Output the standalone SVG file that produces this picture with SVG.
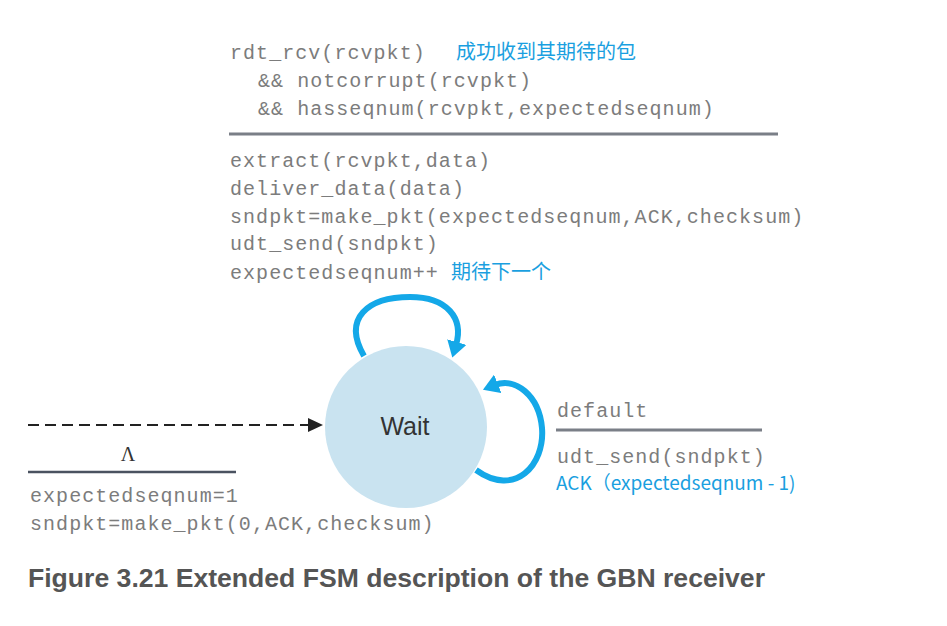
<svg xmlns="http://www.w3.org/2000/svg" width="947" height="626" viewBox="0 0 947 626">
<style>
.mono{font-family:"Liberation Mono","DejaVu Sans Mono",monospace;font-size:20px;letter-spacing:1.05px;fill:#7c7c7c}
.note{font-family:"Noto Sans CJK SC","Noto Sans",sans-serif;font-size:20px;fill:#1a9fe0}
.rule{stroke:#7a7f87;stroke-width:3}
.loop{fill:none;stroke:#14a8e8;stroke-width:6;stroke-linecap:butt}
</style>
<defs>
<marker id="bh" markerUnits="userSpaceOnUse" markerWidth="18" markerHeight="20" refX="3" refY="10" orient="auto" viewBox="0 0 18 20">
<path d="M0,0 L16,10 L0,20 z" fill="#14a8e8"/>
</marker>
</defs>
<rect width="947" height="626" fill="#ffffff"/>
<g id="wait">
<circle cx="406" cy="427" r="81" fill="#c9e3f0"/>
<text x="405" y="435" text-anchor="middle" font-family="Liberation Sans, Arial, sans-serif" font-size="25" fill="#333333">Wait</text>
</g>
<g id="connectors">
<line x1="28" y1="425" x2="308" y2="425" stroke="#222222" stroke-width="2" stroke-dasharray="11,6"/>
<polygon points="308,418 323,425 308,432" fill="#222222"/>
<path class="loop" d="M364 356 C342 318,368 297,410 297 C447 297,464 318,456 345" marker-end="url(#bh)"/>
<path class="loop" d="M476 470 C515 498,545 465,542 428 C539 395,515 377,495 385" marker-end="url(#bh)"/>
</g>
<g id="label-top">
<text class="mono" x="230" y="59">rdt_rcv(rcvpkt)</text>
<text class="note" x="456" y="59">成功收到其期待的包</text>
<text class="mono" x="258" y="87">&amp;&amp; notcorrupt(rcvpkt)</text>
<text class="mono" x="258" y="115">&amp;&amp; hasseqnum(rcvpkt,expectedseqnum)</text>
<line class="rule" x1="229" y1="134" x2="778" y2="134"/>
<text class="mono" x="230" y="167">extract(rcvpkt,data)</text>
<text class="mono" x="230" y="195">deliver_data(data)</text>
<text class="mono" x="230" y="223">sndpkt=make_pkt(expectedseqnum,ACK,checksum)</text>
<text class="mono" x="230" y="250">udt_send(sndpkt)</text>
<text class="mono" x="230" y="279">expectedseqnum++</text>
<text class="note" x="451" y="279">期待下一个</text>
</g>
<g id="label-right">
<text class="mono" x="557" y="417">default</text>
<line class="rule" x1="556" y1="430" x2="762" y2="430"/>
<text class="mono" x="557" y="463">udt_send(sndpkt)</text>
<text class="note" x="556" y="490" style="font-size:19px">ACK（expectedseqnum - 1)</text>
</g>
<g id="label-init">
<text x="128" y="461" text-anchor="middle" font-family="Liberation Serif, serif" font-size="20" fill="#333333">Λ</text>
<line x1="28" y1="472" x2="236" y2="472" stroke="#4a5260" stroke-width="2.5"/>
<text class="mono" x="30" y="502">expectedseqnum=1</text>
<text class="mono" x="30" y="530">sndpkt=make_pkt(0,ACK,checksum)</text>
</g>
<text x="28" y="587" font-family="Liberation Sans, Arial, sans-serif" font-weight="bold" font-size="25" fill="#555555" textLength="737" lengthAdjust="spacingAndGlyphs">Figure 3.21 Extended FSM description of the GBN receiver</text>
</svg>
